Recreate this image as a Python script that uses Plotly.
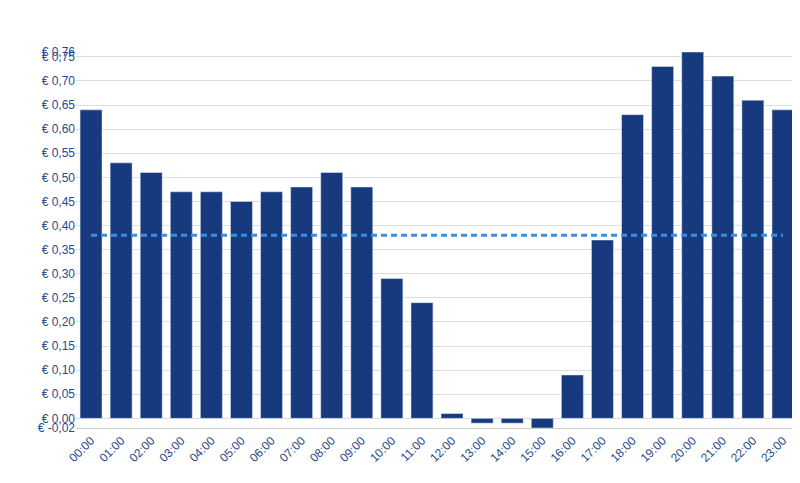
import plotly.graph_objects as go

hours = [f"{h:02d}:00" for h in range(24)]
prices = [0.64,0.53,0.51,0.47,0.47,0.45,0.47,0.48,0.51,0.48,0.29,0.24,0.01,-0.01,-0.01,-0.02,0.09,0.37,0.63,0.73,0.76,0.71,0.66,0.64]
average = 0.38
y_ticks = [-0.02] + [round(0.05*i, 2) for i in range(16)] + [0.76]
y_labels = ["€ " + f"{v:.2f}".replace(".", ",") for v in y_ticks]

fig = go.Figure()
fig.add_trace(go.Bar(x=hours, y=prices, marker_color="#173a7e", showlegend=False))
fig.add_trace(go.Scatter(x=hours, y=[average]*len(hours), mode="lines",
                         line=dict(color="#3a8ee0", width=3, dash="6px,4px"), showlegend=False))
fig.update_layout(
    width=800, height=483, plot_bgcolor="white", paper_bgcolor="white",
    margin=dict(l=68, r=10, t=44, b=63, autoexpand=False), bargap=0.27,
    font=dict(family="Liberation Sans, Arial", size=12, color="#2a4a8a"),
)
fig.update_xaxes(tickangle=-45, showgrid=False, linecolor="#cccccc", ticks="")
fig.update_yaxes(range=[-0.02, 0.76], tickvals=y_ticks, ticktext=y_labels,
                 gridcolor="#dddddd", zeroline=False, ticks="", automargin=False)
fig.write_html("out.html")
